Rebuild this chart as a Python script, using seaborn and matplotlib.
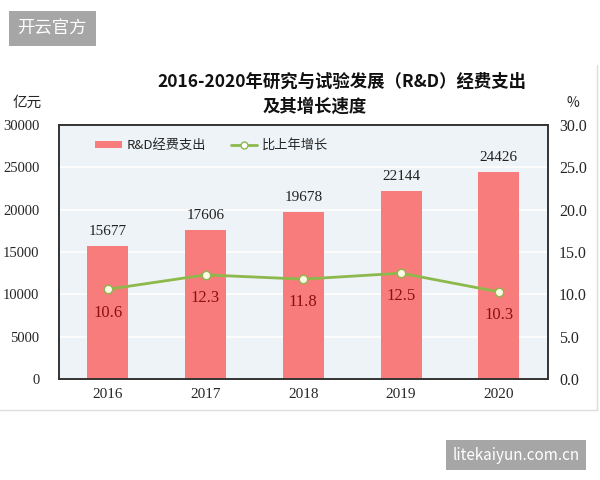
import matplotlib
matplotlib.use("Agg")
import matplotlib.pyplot as plt
import seaborn as sns
import numpy as np
import pandas as pd
from matplotlib.patches import Patch
from matplotlib.lines import Line2D

# --- Data ---
years = ["2016", "2017", "2018", "2019", "2020"]
rd_spend = [15677, 17606, 19678, 22144, 24426]   # 亿元
growth = [10.6, 12.3, 11.8, 12.5, 10.3]          # %

df = pd.DataFrame({"year": years, "spend": rd_spend, "growth": growth})

# --- Style ---
sns.set_style("white")
plt.rcParams["font.family"] = ["Noto Sans CJK SC", "DejaVu Sans"]

bar_color = "#f87c7c"
line_color = "#8cb84c"
num_font = ["Liberation Serif", "DejaVu Serif"]

fig = plt.figure(figsize=(6, 4.8), dpi=100)
ax = fig.add_axes([0.098, 0.21, 0.815, 0.53])
ax.set_facecolor("#eef3f7")

# --- Bars ---
sns.barplot(data=df, x="year", y="spend", color=bar_color, saturation=1,
            width=0.42, linewidth=0, ax=ax, zorder=2)
ax.set_xlim(-0.5, len(years) - 0.5)
ax.set_ylim(0, 30000)
ax.set_yticks(np.arange(0, 30001, 5000))
ax.yaxis.grid(True, color="white", linewidth=1.2, zorder=0)
ax.set_axisbelow(True)
for i, v in enumerate(rd_spend):
    ax.annotate(str(v), (i, v), xytext=(0, 6), textcoords="offset points",
                ha="center", va="bottom", fontsize=11, family=num_font,
                color="#222222")

# --- Growth line on right axis ---
ax2 = ax.twinx()
sns.lineplot(x=np.arange(len(years)), y=growth, ax=ax2, color=line_color,
             linewidth=2, marker="o", markersize=6,
             markerfacecolor="#fffbe8", markeredgecolor=line_color,
             markeredgewidth=1)
ax2.set_ylim(0, 30)
ax2.set_yticks(np.arange(0, 30.1, 5))
ax2.set_yticklabels([f"{t:.1f}" for t in np.arange(0, 30.1, 5)])
for i, v in enumerate(growth):
    ax2.annotate(f"{v}", (i, v), xytext=(0, -11), textcoords="offset points",
                 ha="center", va="top", fontsize=12, family=num_font,
                 color="#8b1010")

# --- Axes cosmetics ---
for a in (ax, ax2):
    for s in a.spines.values():
        s.set_color("#333333")
        s.set_linewidth(1.2)
ax.set_xlabel("")
ax.set_ylabel("")
ax2.set_ylabel("")
ax.tick_params(axis="y", length=0, labelsize=10.5, pad=14)
ax2.tick_params(axis="y", length=0, labelsize=11.5, pad=8)
ax.tick_params(axis="x", which="major", length=0, labelsize=11, pad=6)
ax.set_xticks(np.arange(0.5, len(years) - 1, 1), minor=True)
ax.tick_params(axis="x", which="minor", direction="in", length=4,
               color="#333333")
for lab in ax.get_xticklabels() + ax.get_yticklabels() + ax2.get_yticklabels():
    lab.set_fontfamily(num_font)

# --- Legend ---
handles = [
    Patch(facecolor=bar_color, edgecolor="none", label="R&D经费支出"),
    Line2D([], [], color=line_color, linewidth=2, marker="o", markersize=5,
           markerfacecolor="white", markeredgecolor=line_color,
           label="比上年增长"),
]
ax2.legend(handles=handles, loc="upper left", ncol=2, frameon=False,
           fontsize=9.5, handlelength=2.0, handleheight=0.4,
           handletextpad=0.35, columnspacing=1.9,
           bbox_to_anchor=(0.05, 0.99))

# --- Titles and units ---
fig.text(0.57, 0.83, "2016-2020年研究与试验发展（R&D）经费支出",
         ha="center", va="center", fontsize=12.5, fontweight="bold",
         color="#111111")
fig.text(0.525, 0.777, "及其增长速度", ha="center", va="center",
         fontsize=12.5, fontweight="bold", color="#111111")
fig.text(0.045, 0.785, "亿元", ha="center", va="center", fontsize=10.5)
fig.text(0.955, 0.785, "%", ha="center", va="center", fontsize=10)

# --- Outer frame lines and watermarks ---
fig.add_artist(plt.Line2D([0, 0.995], [0.146, 0.146], color="#dddddd",
                          linewidth=1, transform=fig.transFigure))
fig.add_artist(plt.Line2D([0.995, 0.995], [0.146, 0.865], color="#dddddd",
                          linewidth=1, transform=fig.transFigure))
fig.text(0.087, 0.94, "开云官方", ha="center", va="center", fontsize=12.5,
         color="white",
         bbox=dict(boxstyle="square,pad=0.5", facecolor="#a6a6a6",
                   edgecolor="none"))
fig.text(0.86, 0.052, "litekaiyun.com.cn", ha="center", va="center",
         fontsize=11, color="white",
         bbox=dict(boxstyle="square,pad=0.45", facecolor="#a6a6a6",
                   edgecolor="none"))

fig.savefig("out.png", dpi=100)
